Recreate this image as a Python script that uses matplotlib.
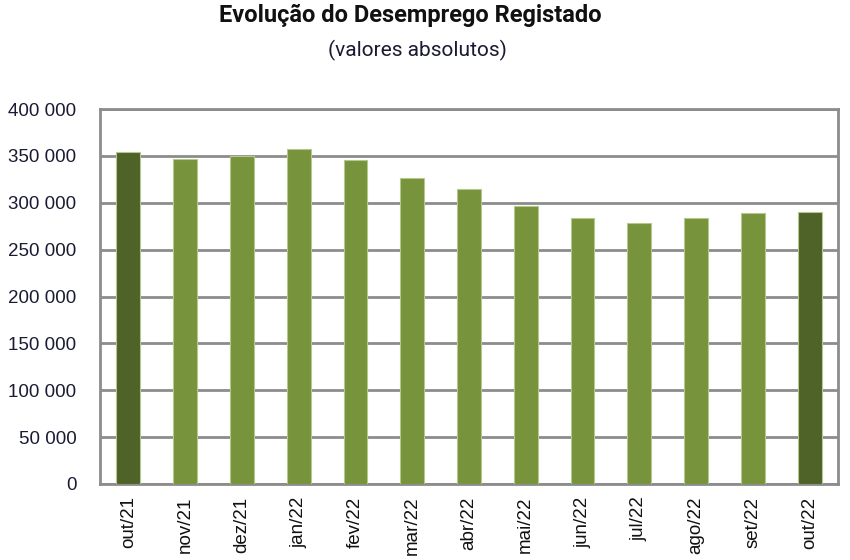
import matplotlib
matplotlib.use("Agg")
import matplotlib.pyplot as plt
from matplotlib.ticker import FuncFormatter

categories = ["out/21", "nov/21", "dez/21", "jan/22", "fev/22", "mar/22", "abr/22",
              "mai/22", "jun/22", "jul/22", "ago/22", "set/22", "out/22"]
values = [353700, 346200, 349700, 357600, 345100, 326500, 315200,
          297000, 283400, 278800, 283400, 288800, 290200]
highlight = ["out/21", "out/22"]

dark = "#4F6228"
light = "#77933C"
colors = [dark if c in highlight else light for c in categories]

plt.rcParams['font.family'] = ['Liberation Sans', 'DejaVu Sans']

fig = plt.figure(figsize=(8.5, 5.6), dpi=100)
ax = fig.add_axes([100/850, 1 - 484/560, 738/850, (484 - 109)/560])

x = range(len(categories))
ax.bar(x, values, width=0.42, color=colors, edgecolor="#b5c98f", linewidth=0.8, zorder=3)

ax.set_ylim(0, 400000)
ax.set_xlim(-0.5, len(categories) - 0.5)
ax.set_yticks(range(0, 400001, 50000))
ax.yaxis.set_major_formatter(FuncFormatter(lambda v, p: f"{int(v):,}".replace(",", " ")))
ax.grid(axis="y", color="#8c8c8c", linewidth=2, zorder=0)
ax.set_xticks(list(x))
ax.set_xticklabels(categories, rotation=90, fontsize=13.5, color="#111111")
ax.tick_params(axis="y", labelsize=13.5, colors="#1a1a33", length=0, pad=17)
ax.tick_params(axis="x", length=0, pad=9)
for s in ax.spines.values():
    s.set_color("#8c8c8c")
    s.set_linewidth(2)

fig.text(410/850, 1 - 15/560, "Evolução do Desemprego Registado", ha="center", va="center",
         fontsize=17, fontweight="bold", family=["Roboto", "DejaVu Sans"], color="#111111")
fig.text(417/850, 1 - 50/560, "(valores absolutos)", ha="center", va="center",
         fontsize=15, family=["Roboto", "DejaVu Sans"], color="#1a1a33")

fig.savefig("out.png", dpi=100)
